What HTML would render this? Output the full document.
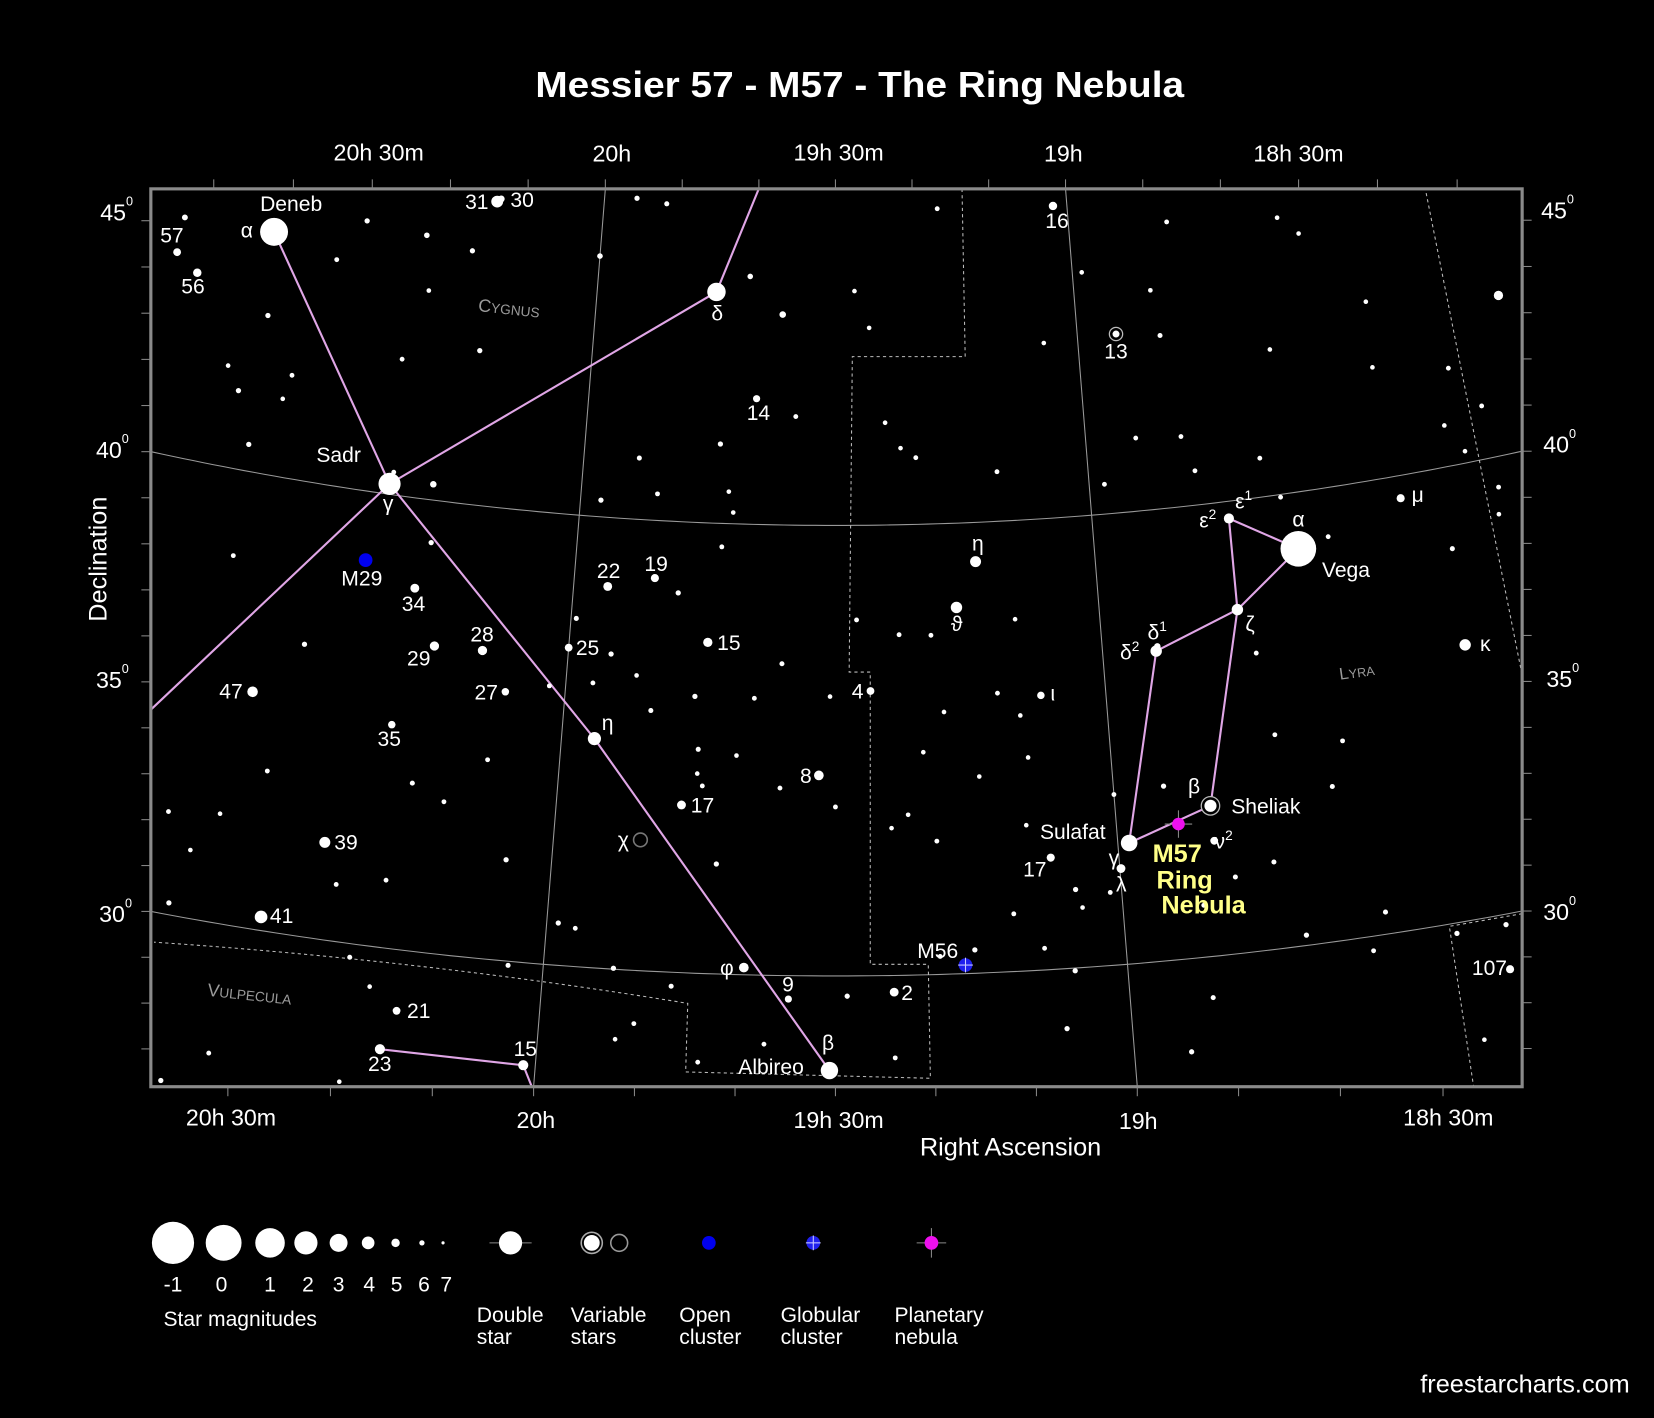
<!DOCTYPE html>
<html><head><meta charset="utf-8"><title>Messier 57 - M57 - The Ring Nebula</title>
<style>
html,body{margin:0;padding:0;background:#000;}
svg{display:block;}
text{font-family:"Liberation Sans Narrow","Liberation Sans",sans-serif;fill:#fff;}
</style></head>
<body>
<svg id="chart" width="1654" height="1418" viewBox="0 0 1568 1344" preserveAspectRatio="none" xmlns="http://www.w3.org/2000/svg">
<rect x="0" y="0" width="1568" height="1344" fill="#000"/>
<defs><clipPath id="frameClip"><rect x="143" y="179" width="1300" height="851"/></clipPath></defs>
<text x="815" y="92" text-anchor="middle" font-size="34" font-weight="bold" textLength="615" lengthAdjust="spacingAndGlyphs" style="font-family:'Liberation Sans',sans-serif">Messier 57 - M57 - The Ring Nebula</text>
<g id="grid" clip-path="url(#frameClip)"></g>
<g id="bounds" clip-path="url(#frameClip)" fill="none" stroke="#bbb" stroke-width="1" stroke-dasharray="3,3">
<path d="M912,179 L915,338 L808,338 L805,637 L825,637 L825,914 L880,914 L882,1022 L650,1016 L652,951 Q400,910 146,893"/>
<path d="M1352,183 L1443,640"/>
<path d="M1443,866 L1374,878 L1397,1030"/>
</g>
<g id="lines" clip-path="url(#frameClip)" fill="none" stroke="#e0a6e6" stroke-width="2"></g>
<g id="stars" clip-path="url(#frameClip)"></g>
<rect x="143" y="179" width="1300" height="851" fill="none" stroke="#8a8a8a" stroke-width="3"/>
<g id="ticks" stroke="#888" stroke-width="1"></g>
<g font-size="22" text-anchor="middle">
<text x="359" y="152">20h 30m</text><text x="580" y="153">20h</text><text x="795" y="152">19h 30m</text><text x="1008" y="153">19h</text><text x="1231" y="153">18h 30m</text></g>
<g font-size="22" text-anchor="middle">
<text x="219" y="1067">20h 30m</text><text x="508" y="1069">20h</text><text x="795" y="1069">19h 30m</text><text x="1079" y="1070">19h</text><text x="1373" y="1067">18h 30m</text></g>
<g font-size="22">
<text x="95" y="209">45<tspan font-size="12" dy="-14">0</tspan></text>
<text x="91" y="434">40<tspan font-size="12" dy="-14">0</tspan></text>
<text x="91" y="652">35<tspan font-size="12" dy="-14">0</tspan></text>
<text x="94" y="874">30<tspan font-size="12" dy="-14">0</tspan></text>
<text x="1461" y="207">45<tspan font-size="12" dy="-14">0</tspan></text>
<text x="1463" y="429">40<tspan font-size="12" dy="-14">0</tspan></text>
<text x="1466" y="651">35<tspan font-size="12" dy="-14">0</tspan></text>
<text x="1463" y="872">30<tspan font-size="12" dy="-14">0</tspan></text></g>
<text x="101" y="530" font-size="24" text-anchor="middle" transform="rotate(-90 101 530)">Declination</text>
<text x="958" y="1095" font-size="24" text-anchor="middle">Right Ascension</text>
<g fill="#999">
<text x="482" y="298" font-size="17" text-anchor="middle" transform="rotate(6 482 298)" fill="#999" style="fill:#9a9a9a">C<tspan font-size="13">YGNUS</tspan></text>
<text x="1287" y="642" font-size="16" text-anchor="middle" transform="rotate(-8 1287 642)" style="fill:#9a9a9a">L<tspan font-size="12">YRA</tspan></text>
<text x="236" y="948" font-size="17" text-anchor="middle" transform="rotate(6 236 948)" style="fill:#9a9a9a">V<tspan font-size="13">ULPECULA</tspan></text></g>
<g font-size="20">
<text x="276" y="200" text-anchor="middle">Deneb</text><text x="234" y="225" text-anchor="middle">α</text>
<text x="163" y="230" text-anchor="middle">57</text><text x="183" y="278" text-anchor="middle">56</text>
<text x="452" y="198" text-anchor="middle">31</text><text x="495" y="196" text-anchor="middle">30</text>
<text x="680" y="304" text-anchor="middle">δ</text><text x="719" y="398" text-anchor="middle">14</text>
<text x="1002" y="216" text-anchor="middle">16</text><text x="1058" y="340" text-anchor="middle">13</text>
<text x="321" y="438" text-anchor="middle">Sadr</text><text x="368" y="484" text-anchor="middle">γ</text>
<text x="343" y="555" text-anchor="middle">M29</text><text x="392" y="579" text-anchor="middle">34</text>
<text x="577" y="548" text-anchor="middle">22</text><text x="622" y="541" text-anchor="middle">19</text>
<text x="397" y="631" text-anchor="middle">29</text><text x="457" y="608" text-anchor="middle">28</text>
<text x="557" y="621" text-anchor="middle">25</text><text x="691" y="616" text-anchor="middle">15</text>
<text x="219" y="662" text-anchor="middle">47</text><text x="461" y="663" text-anchor="middle">27</text>
<text x="369" y="707" text-anchor="middle">35</text><text x="576" y="692" text-anchor="middle">η</text>
<text x="813" y="662" text-anchor="middle">4</text><text x="927" y="522" text-anchor="middle">η</text>
<text x="907" y="598" text-anchor="middle">ϑ</text><text x="998" y="664" text-anchor="middle">ι</text>
<text x="764" y="742" text-anchor="middle">8</text><text x="666" y="770" text-anchor="middle">17</text>
<text x="591" y="803" text-anchor="middle">χ</text><text x="328" y="805" text-anchor="middle">39</text>
<text x="267" y="875" text-anchor="middle">41</text><text x="689" y="924" text-anchor="middle">φ</text>
<text x="747" y="940" text-anchor="middle">9</text><text x="860" y="948" text-anchor="middle">2</text>
<text x="889" y="908" text-anchor="middle">M56</text><text x="731" y="1018" text-anchor="middle">Albireo</text>
<text x="785" y="995" text-anchor="middle">β</text><text x="397" y="965" text-anchor="middle">21</text>
<text x="360" y="1015" text-anchor="middle">23</text><text x="498" y="1001" text-anchor="middle">15</text>
<text x="981" y="831" text-anchor="middle">17</text><text x="1017" y="795" text-anchor="middle">Sulafat</text>
<text x="1056" y="820" text-anchor="middle">γ</text><text x="1063" y="845" text-anchor="middle">λ</text>
<text x="1200" y="771" text-anchor="middle">Sheliak</text><text x="1132" y="752" text-anchor="middle">β</text>
<text x="1160" y="804" text-anchor="middle">ν<tspan font-size="13" dy="-8">2</tspan></text>
<text x="1071" y="625" text-anchor="middle">δ<tspan font-size="13" dy="-8">2</tspan></text>
<text x="1097" y="606" text-anchor="middle">δ<tspan font-size="13" dy="-8">1</tspan></text>
<text x="1185" y="598" text-anchor="middle">ζ</text>
<text x="1145" y="500" text-anchor="middle">ε<tspan font-size="13" dy="-8">2</tspan></text>
<text x="1179" y="482" text-anchor="middle">ε<tspan font-size="13" dy="-8">1</tspan></text>
<text x="1231" y="499" text-anchor="middle">α</text><text x="1276" y="547" text-anchor="middle">Vega</text>
<text x="1344" y="476" text-anchor="middle">μ</text><text x="1408" y="617" text-anchor="middle">κ</text>
<text x="1412" y="924" text-anchor="middle">107</text></g>
<g font-size="24" font-weight="bold" style="font-family:'Liberation Sans',sans-serif">
<text x="1116" y="817" text-anchor="middle" style="fill:#ffff88">M57</text>
<text x="1123" y="842" text-anchor="middle" style="fill:#ffff88">Ring</text>
<text x="1141" y="866" text-anchor="middle" style="fill:#ffff88">Nebula</text></g>
<g id="legend">
<g id="magLegend"></g>
<text x="155" y="1257" font-size="20">Star magnitudes</text>
<g><line x1="464" y1="1178" x2="504" y2="1178" stroke="#888"/><circle cx="484" cy="1178" r="11" fill="#fff"/>
<text x="452" y="1253" font-size="20">Double</text><text x="452" y="1274" font-size="20">star</text></g>
<g><circle cx="561" cy="1178" r="10" fill="#000" stroke="#aaa" stroke-width="1.5"/><circle cx="561" cy="1178" r="7.5" fill="#fff"/><circle cx="587" cy="1178" r="8" fill="none" stroke="#999" stroke-width="1.5"/>
<text x="541" y="1253" font-size="20">Variable</text><text x="541" y="1274" font-size="20">stars</text></g>
<g><circle cx="672" cy="1178" r="6.5" fill="#0000ee"/>
<text x="644" y="1253" font-size="20">Open</text><text x="644" y="1274" font-size="20">cluster</text></g>
<g><circle cx="771" cy="1178" r="6.5" fill="#2020ee"/><line x1="764" y1="1178" x2="778" y2="1178" stroke="#ccf"/><line x1="771" y1="1171" x2="771" y2="1185" stroke="#ccf"/>
<text x="740" y="1253" font-size="20">Globular</text><text x="740" y="1274" font-size="20">cluster</text></g>
<g><line x1="869" y1="1178" x2="897" y2="1178" stroke="#888"/><line x1="883" y1="1164" x2="883" y2="1192" stroke="#888"/><circle cx="883" cy="1178" r="6.5" fill="#ee10ee"/>
<text x="848" y="1253" font-size="20">Planetary</text><text x="848" y="1274" font-size="20">nebula</text></g>
</g>
<text x="1545" y="1320" font-size="24" text-anchor="end" style="font-family:'Liberation Sans',sans-serif">freestarcharts.com</text>
</svg>
<script>
// ---- data: right ascension (hours), declination (deg), magnitude ----
const namedRA  = [20.69,20.88,20.83,20.23,20.222,19.75,19.66,19.03,18.92,20.375,20.30,20.25,20.16,19.935,19.846,20.00,19.74,20.57,20.11,20.31,19.94,19.435,19.23,19.27,19.12,19.53,19.776,20.40,20.49,19.657,19.58,19.40,19.51,20.24,20.26,20.02,19.12,18.98,18.998,18.83,18.83,18.90,18.897,18.74,18.735,18.61,18.40,18.33,18.357,18.13];
const namedDec = [45.33,44.45,44.10,46.75,46.82,45.13,42.79,46.91,43.96,40.23,38.01,36.79,36.81,38.47,38.72,37.05,37.35,35.20,35.95,34.94,35.08,36.32,39.13,38.13,36.09,34.45,33.72,32.15,30.30,30.16,29.48,29.63,27.90,28.65,27.76,27.73,32.48,32.68,32.13,33.33,32.55,36.87,36.97,37.59,39.62,38.75,39.50,36.04,28.78,43.49];
const namedMag = [1.25,5.2,5.0,4.2,5.5,2.9,5.4,5.0,4.6,2.2,4.9,4.8,4.8,4.9,5.1,5.2,4.8,4.5,5.3,5.3,3.9,5.2,4.4,4.3,5.3,4.7,4.9,4.4,4.0,4.7,5.4,4.9,3.1,5.2,4.6,4.6,5.1,3.25,4.9,3.5,5.2,4.3,5.6,4.3,4.6,0.03,5.1,4.3,5.1,4.8];
const variableIdx = [8,39];
const faintRA  = [20.88,20.67,20.55,20.50,20.37,20.27,20.35,20.70,20.73,20.60,20.66,20.61,20.385,20.23,20.37,20.29,20.28,20.00,19.865,19.93,19.68,19.61,19.58,19.73,19.89,19.96,19.85,19.71,19.70,19.80,19.72,19.99,19.92,20.03,19.95,19.87,19.84,19.76,19.60,19.65,19.75,19.68,19.60,19.75,19.74,19.51,19.50,19.71,20.08,20.20,20.26,20.49,20.65,20.68,20.63,20.65,20.37,20.285,20.13,19.98,19.95,20.06,19.88,19.78,19.84,19.87,19.73,19.62,19.48,19.40,19.32,19.26,19.19,19.11,18.905,18.79,18.555,18.515,18.40,18.41,18.26,18.21,18.26,18.22,18.29,18.61,18.84,18.83,18.90,18.81,18.79,18.66,18.63,18.55,18.97,19.07,18.98,19.40,19.46,19.43,19.28,19.37,19.34,19.18,19.46,19.38,19.32,19.16,19.20,19.16,19.15,19.30,19.34,19.24,19.37,19.32,19.40,19.16,19.08,19.02,18.91,18.715,18.70,18.61,18.58,18.73,18.80,18.69,18.58,18.55,18.435,18.42,18.35,18.86,19.09,19.14,19.07,18.86,19.00,18.32,18.21,20.61,20.54,20.33,20.29,20.32,20.59,20.52];
const faintDec = [45.24,43.48,44.97,45.93,45.81,45.60,44.60,41.72,42.22,42.27,40.59,41.72,43.01,43.42,40.50,40.35,39.06,45.77,47.03,47.11,45.50,44.67,42.41,41.76,41.36,40.37,40.59,40.71,40.25,38.42,39.48,37.71,36.98,36.17,36.31,36.54,35.78,36.14,36.92,36.14,34.97,34.86,34.16,34.43,34.16,36.20,33.75,32.44,32.24,33.38,33.71,36.43,38.10,32.25,31.50,30.26,31.26,31.50,34.41,30.94,30.85,29.91,30.02,29.69,28.82,28.45,28.03,28.47,29.55,28.17,30.40,30.52,31.28,28.67,27.94,46.32,46.09,45.67,43.93,42.47,42.14,41.17,40.26,38.74,40.91,43.22,44.85,43.83,41.62,41.55,40.76,40.86,39.94,38.92,40.66,43.89,45.39,42.27,45.20,44.38,46.99,41.70,41.48,41.10,37.90,37.56,37.53,37.81,36.19,35.67,34.73,35.82,34.94,34.36,33.56,32.96,33.27,33.23,31.74,31.62,33.87,36.58,34.73,33.42,34.39,31.93,31.70,30.23,29.68,30.49,29.77,27.34,29.77,29.09,29.94,30.48,31.33,31.15,33.78,38.19,39.33,26.35,27.13,29.70,29.11,26.93,32.41,33.52];
const faintMag = [5.8,6.0,6.2,6.0,5.9,6.0,6.3,6.0,6.3,6.2,6.0,6.3,6.2,6.0,6.2,5.6,6.0,5.9,6.1,6.0,5.9,5.6,6.2,6.0,6.1,6.0,6.2,6.3,6.3,6.0,6.2,6.1,6.0,6.2,6.2,6.3,6.1,6.0,6.1,6.2,6.1,6.3,6.2,6.3,6.2,6.3,6.2,6.0,6.0,6.2,6.1,6.0,6.2,6.2,6.3,6.0,6.2,6.2,6.2,6.0,6.2,6.1,6.0,6.1,6.2,6.3,6.2,6.2,6.0,6.2,6.2,6.0,6.2,6.0,6.0,6.2,6.3,6.3,6.3,6.3,6.2,6.2,6.3,6.3,6.3,6.3,6.3,6.1,6.2,6.2,6.2,6.2,6.2,6.2,6.2,6.3,6.3,6.3,6.3,6.3,6.2,6.3,6.2,6.2,6.2,6.2,6.2,6.3,6.2,6.3,6.3,6.3,6.3,6.3,6.3,6.2,6.3,6.3,6.0,6.2,6.0,6.2,6.2,6.1,6.2,6.1,6.1,6.0,6.2,6.1,6.0,6.3,6.0,6.1,6.0,6.2,6.3,6.2,6.2,6.1,6.2,6.0,6.2,6.1,6.3,6.3,6.3,6.2];
// deep-sky objects
const dsoNames = ['M29','M56','M57'];
const dsoRA    = [20.40,19.277,18.89];
const dsoDec   = [38.48,30.19,33.00];
const dsoType  = ['open','globular','planetary'];
// constellation stick figures: [ra1,dec1,ra2,dec2]
const lineRA1  = [20.69,20.375,19.94,20.375,19.75,20.375,20.26,20.02,18.61,18.735,18.61,18.74,18.74,18.90,18.98];
const lineDec1 = [45.33,40.23,35.08,40.23,45.13,40.23,27.76,27.73,38.75,39.62,38.75,37.59,37.59,36.87,32.68];
const lineRA2  = [20.375,19.94,19.51,19.75,19.495,20.77,20.02,19.89,18.735,18.74,18.74,18.90,18.83,18.98,18.83];
const lineDec2 = [40.23,35.08,27.90,45.13,51.73,33.97,27.73,24.08,39.62,37.59,37.59,36.87,33.33,32.68,33.33];
const gridDecs = [40,30];
const gridRAs  = [20,19];
const magLevels = [-1,0,1,2,3,4,5,6,7];

// ---- projection (conic) ----
const CX=792, CY=-2550, R40=3048, PXD=42.7, ANG=9.14*Math.PI/180;
function radius(dec){return R40+(40-dec)*PXD;}
function projX(ra,dec){return CX+radius(dec)*Math.sin((19.5-ra)*ANG);}
function projY(ra,dec){return CY+radius(dec)*Math.cos((19.5-ra)*ANG);}
const magR=[20,17,14,11,8.5,6,4,2.5,1.5];
function starR(m){const t=Math.max(-1,Math.min(7,m))+1;const i=Math.min(7,Math.floor(t));const f=t-i;return magR[i]+(magR[i+1]-magR[i])*f;}
const NS='http://www.w3.org/2000/svg';
function mk(tag,attrs,parent){const e=document.createElementNS(NS,tag);for(const k in attrs)e.setAttribute(k,attrs[k]);parent.appendChild(e);return e;}

// grid
const grid=document.getElementById('grid');
gridDecs.forEach(function(d){let p='';for(let ra=17.8;ra<=21.2;ra+=0.02){p+=(p?'L':'M')+projX(ra,d).toFixed(1)+','+projY(ra,d).toFixed(1);}
 const el=mk('path',{d:p,fill:'none',stroke:'#999','stroke-width':1},grid);
 
 });
gridRAs.forEach(function(ra){const el=mk('line',{x1:projX(ra,50),y1:projY(ra,50),x2:projX(ra,24),y2:projY(ra,24),stroke:'#999','stroke-width':1},grid);
 
 });

// ticks
const ticks=document.getElementById('ticks');
for(let m=0;m<=18;m++){const ra=18+m/6;const th=(19.5-ra)*ANG;
 [[179,-9],[1030,9]].forEach(function(e){const x=CX+(e[0]-CY)*Math.tan(th);if(x>143&&x<1443){
  const t=mk('line',{x1:x,y1:e[0],x2:x+0,y2:e[0]+e[1]},ticks);
  
  }});}
for(let d=26;d<=47;d++){const r=radius(d);
 [[143,-9],[1443,9]].forEach(function(e){const dx=e[0]-CX;const y=CY+Math.sqrt(r*r-dx*dx);if(y>179&&y<1030){
  const t=mk('line',{x1:e[0],y1:y,x2:e[0]+e[1],y2:y},ticks);
  
  }});}

// constellation lines
const lines=document.getElementById('lines');
for(let i=0;i<lineRA1.length;i++){const l=mk('line',{x1:projX(lineRA1[i],lineDec1[i]),y1:projY(lineRA1[i],lineDec1[i]),x2:projX(lineRA2[i],lineDec2[i]),y2:projY(lineRA2[i],lineDec2[i])},lines);
 
 }

// stars
const stars=document.getElementById('stars');
for(let i=0;i<faintRA.length;i++){const c=mk('circle',{cx:projX(faintRA[i],faintDec[i]),cy:projY(faintRA[i],faintDec[i]),r:starR(faintMag[i]),fill:'#fff'},stars);
 
 }
for(let i=0;i<namedRA.length;i++){const x=projX(namedRA[i],namedDec[i]),y=projY(namedRA[i],namedDec[i]),r=starR(namedMag[i]);
 let c;
 if(variableIdx.indexOf(i)>=0){mk('circle',{cx:x,cy:y,r:r+1.5,fill:'#000',stroke:'#bbb','stroke-width':1.2},stars);c=mk('circle',{cx:x,cy:y,r:r-1.5,fill:'#fff'},stars);}
 else{c=mk('circle',{cx:x,cy:y,r:r,fill:'#fff'},stars);}
 
 }
// chi Cyg (variable, faint at epoch)
const chi=mk('circle',{cx:projX(19.846,32.9),cy:projY(19.846,32.9),r:6.5,fill:'none',stroke:'#777','stroke-width':1.5},stars);


for(let i=0;i<dsoNames.length;i++){const x=projX(dsoRA[i],dsoDec[i]),y=projY(dsoRA[i],dsoDec[i]);
 const g=mk('g',{},stars);
 
 
 if(dsoType[i]==='open'){mk('circle',{cx:x,cy:y,r:6.5,fill:'#0000ee'},g);}
 else if(dsoType[i]==='globular'){mk('circle',{cx:x,cy:y,r:6.5,fill:'#2020ee'},g);mk('line',{x1:x-7,y1:y,x2:x+7,y2:y,stroke:'#ccf'},g);mk('line',{x1:x,y1:y-7,x2:x,y2:y+7,stroke:'#ccf'},g);}
 else{mk('line',{x1:x-13,y1:y,x2:x+13,y2:y,stroke:'#888'},g);mk('line',{x1:x,y1:y-13,x2:x,y2:y+13,stroke:'#888'},g);mk('circle',{cx:x,cy:y,r:6,fill:'#ee10ee'},g);}}

// magnitude legend
const ml=document.getElementById('magLegend');
const legX=[164,212,256,290,321,349,375,400,420];
const legLX=[164,210,256,292,321,350,376,402,423];
magLevels.forEach(function(m,i){const c=mk('circle',{cx:legX[i],cy:1178,r:starR(m),fill:'#fff'},ml);
 
 
 const t=mk('text',{x:legLX[i],y:1224,'font-size':20,'text-anchor':'middle'},ml);t.textContent=String(m);
 
 });
</script>
</body></html>
